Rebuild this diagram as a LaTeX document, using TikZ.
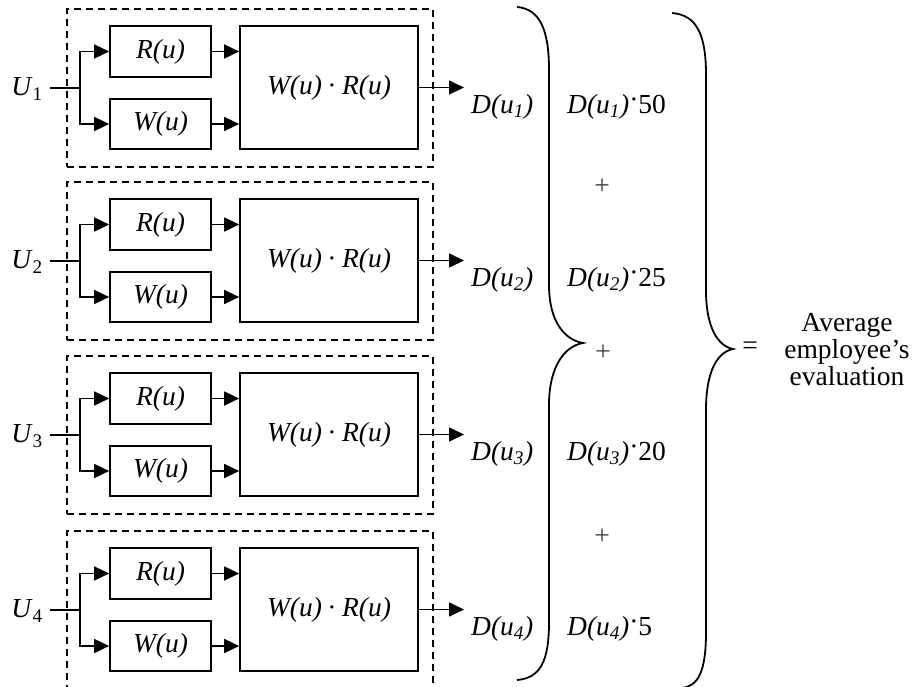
\documentclass[tikz,border=0pt]{standalone}
\usepackage{fontspec}
\setmainfont{Liberation Serif}
\usetikzlibrary{arrows.meta}
\begin{document}
\begin{tikzpicture}[x=1pt,y=-1pt,
  font=\fontsize{27.5}{27}\selectfont,
  blk/.style={draw, line width=1.7pt, inner sep=0pt},
  grp/.style={draw, dash pattern=on 7pt off 5pt, line width=1.6pt, inner sep=0pt,
              minimum width=366pt, minimum height=158pt},
  conn/.style={line width=1.7pt},
  arr/.style={conn, -{Triangle[length=15pt,width=14pt]}},
  lbl/.style={inner sep=0pt},
  plus/.style={inner sep=0pt, text=black!75},
  brace/.style={line width=1.8pt}]
\useasboundingbox (0,0) rectangle (912,687);
\clip (0,0) rectangle (912,687);
\foreach \i/\d in {1/0,2/173,3/347,4/522} {
  \node[grp] (g\i) at (250,{88+\d}) {};
  \node[blk, minimum width=101pt, minimum height=51pt] (r\i) at (160.5,{51.5+\d}) {\textit{R(u)}};
  \node[blk, minimum width=101pt, minimum height=50pt] (w\i) at (160.5,{124+\d}) {\textit{W(u)}};
  \node[blk, minimum width=178pt, minimum height=123pt] (b\i) at (329,{87.5+\d}) {\textit{W(u)}\hspace{0.2em}·\hspace{0.2em}\textit{R(u)}};
  \node[lbl] (u\i) at (27,{89+\d}) {\textit{U}\textsubscript{\i}};
  \coordinate (in\i) at (50,{88+\d});
  \coordinate (sp\i) at (80,{88+\d});
  \coordinate (o\i) at (464,{87.5+\d});
  \draw[conn] (in\i) -- (sp\i);
  \draw[arr] (sp\i) |- (r\i.west);
  \draw[arr] (sp\i) |- (w\i.west);
  \draw[arr] (r\i.east) -- (r\i.east -| b\i.west);
  \draw[arr] (w\i.east) -- (w\i.east -| b\i.west);
  \draw[arr] (b\i.east) -- (o\i);
  \node[lbl, anchor=west] (d\i) at (471,{107+\d}) {\textit{D(u\textsubscript{\i})}};
}
% right column
\node[lbl, anchor=west] (s1) at (567,107) {\textit{D(u\textsubscript{1})}\raisebox{0.2em}{·}50};
\node[lbl, anchor=west] (s2) at (567,280) {\textit{D(u\textsubscript{2})}\raisebox{0.2em}{·}25};
\node[lbl, anchor=west] (s3) at (567,454) {\textit{D(u\textsubscript{3})}\raisebox{0.2em}{·}20};
\node[lbl, anchor=west] (s4) at (567,629) {\textit{D(u\textsubscript{4})}\raisebox{0.2em}{·}5};
\node[plus] (p1) at (602,187) {+};
\node[plus] (p2) at (603,353) {+};
\node[plus] (p3) at (602,537) {+};
% braces
\draw[brace] (517,7) .. controls (540,9) and (549,30) .. (549,70) -- (549,285)
  .. controls (549,322) and (565,340) .. (583,343)
  .. controls (565,346) and (549,366) .. (549,405) -- (549,622)
  .. controls (549,662) and (540,678) .. (517,680);
\draw[brace] (672,13) .. controls (697,15) and (706,35) .. (706,75) -- (706,290)
  .. controls (706,328) and (718,346) .. (733,349)
  .. controls (718,352) and (706,370) .. (706,410) -- (706,632)
  .. controls (706,672) and (698,686) .. (682,688);
\node[lbl] (eq) at (750,348) {=};
\node[lbl, align=center] (res) at (847,350) {Average\\employee’s\\evaluation};
\end{tikzpicture}
\end{document}
